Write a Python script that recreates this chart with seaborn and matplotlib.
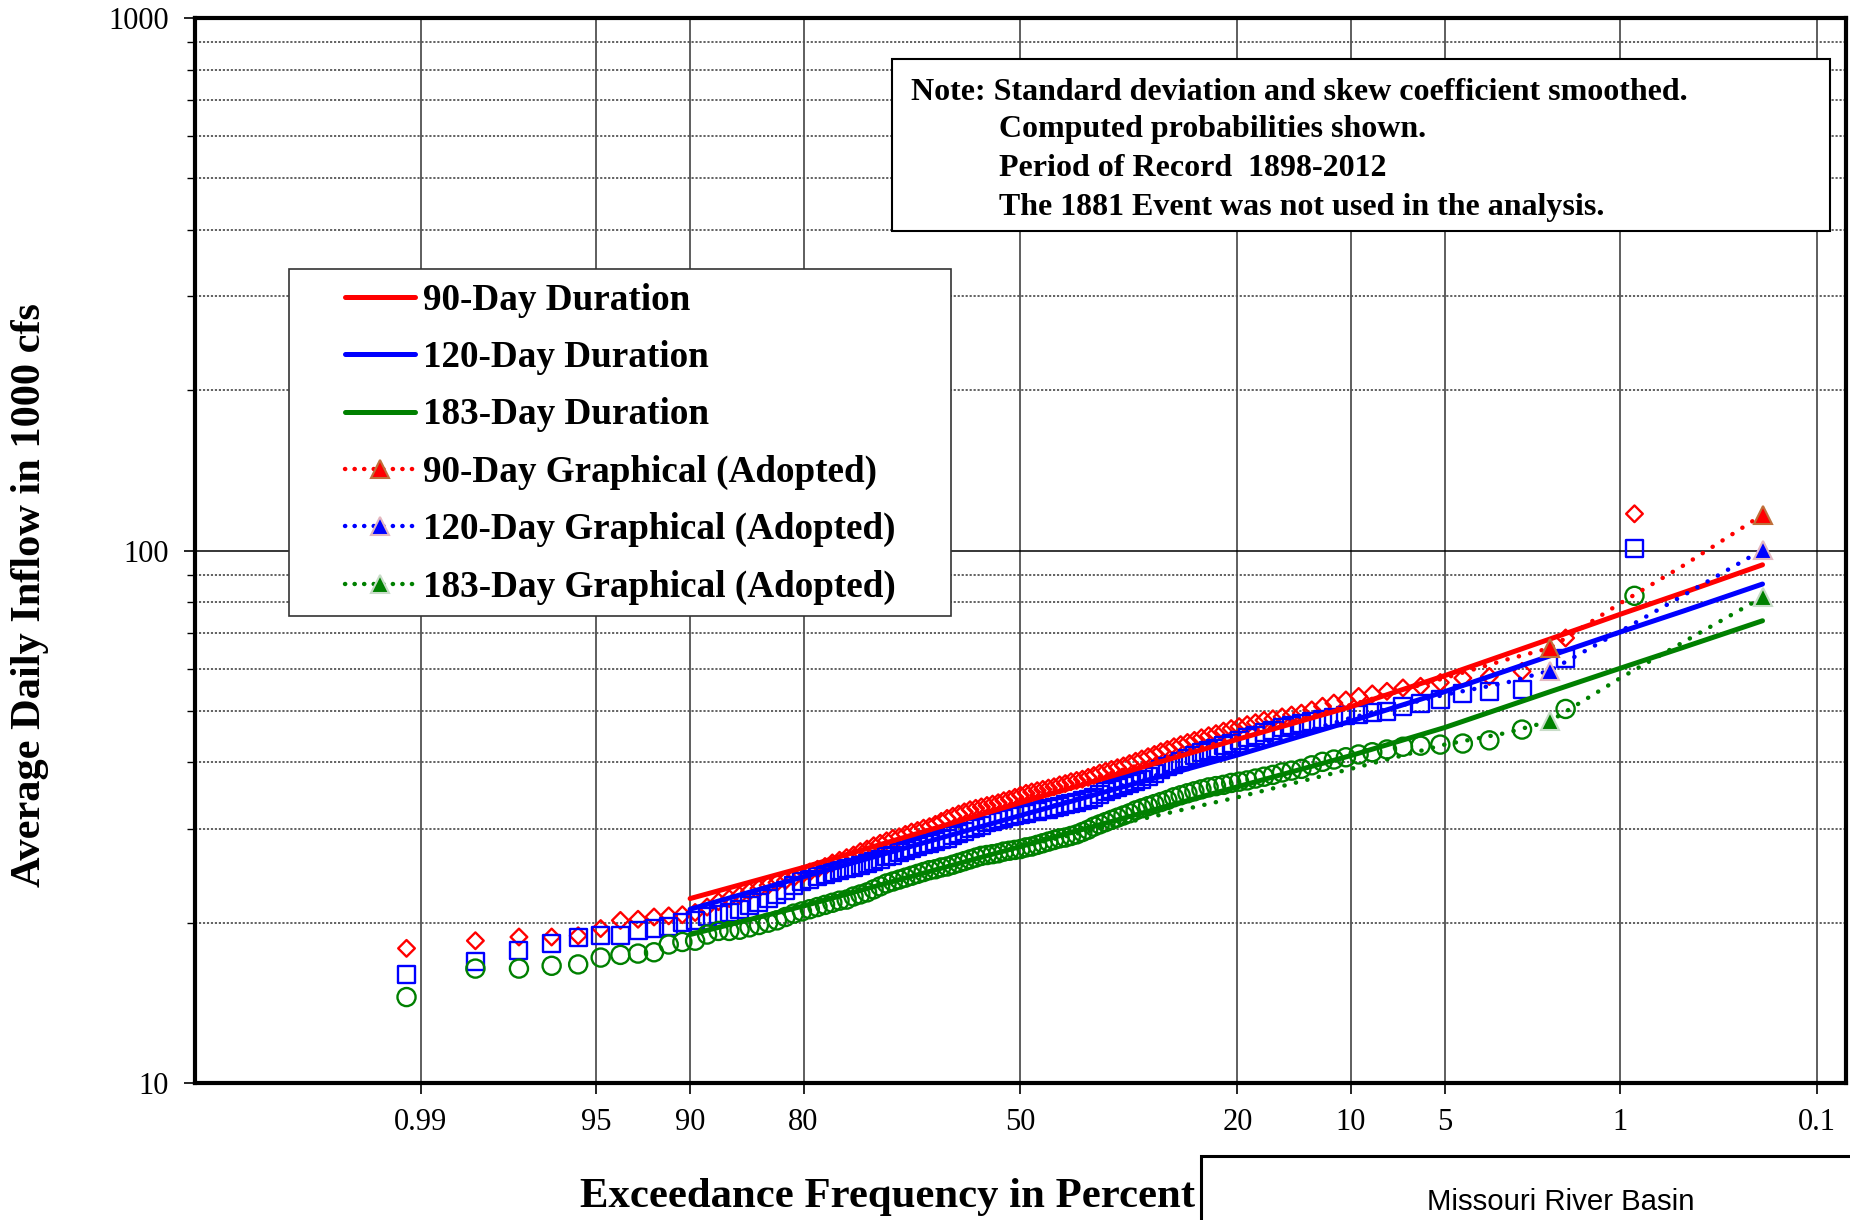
import numpy as np
import pandas as pd
import matplotlib
matplotlib.use("Agg")
import matplotlib.pyplot as plt
import seaborn as sns
from matplotlib.lines import Line2D
from matplotlib.patches import Rectangle
from statistics import NormalDist

# ---------------- data ----------------
n_years = 115                      # period of record 1898-2012
rank = np.arange(1, n_years + 1)
exceed_pct = rank / (n_years + 1) * 100.0   # Weibull plotting positions

flow_90 = [117.2, 68.5, 59.3, 58.0, 57.6, 56.5, 55.6, 55.2, 54.4, 53.8,
           53.2, 52.4, 51.7, 51.0, 50.2, 49.5, 49.1, 48.7, 48.3, 48.0,
           47.5, 47.1, 46.7, 46.3, 45.8, 45.3, 44.9, 44.5, 44.0, 43.6,
           43.2, 42.8, 42.3, 41.9, 41.4, 41.0, 40.6, 40.2, 39.8, 39.4,
           39.1, 38.8, 38.5, 38.2, 37.8, 37.5, 37.2, 37.0, 36.8, 36.5,
           36.3, 36.0, 35.8, 35.6, 35.4, 35.2, 35.0, 34.7, 34.4, 34.1,
           33.9, 33.6, 33.4, 33.2, 33.0, 32.8, 32.6, 32.3, 32.0, 31.7,
           31.4, 31.0, 30.6, 30.3, 30.1, 29.8, 29.6, 29.3, 29.0, 28.8,
           28.5, 28.2, 27.9, 27.5, 27.2, 26.8, 26.5, 26.2, 25.9, 25.5,
           25.2, 24.9, 24.6, 24.3, 24.0, 23.8, 23.5, 23.2, 22.9, 22.5,
           22.2, 21.9, 21.4, 20.9, 20.7, 20.6, 20.5, 20.3, 20.2, 19.5,
           18.9, 18.8, 18.8, 18.5, 17.9]

flow_120 = [101.0, 62.8, 54.8, 54.4, 53.8, 52.6, 51.7, 50.9, 49.9, 49.6,
            49.3, 48.9, 48.5, 48.1, 47.8, 47.4, 47.0, 46.5, 46.0, 45.5,
            45.0, 44.5, 43.9, 43.4, 43.0, 42.5, 42.1, 41.7, 41.2, 40.7,
            40.2, 39.7, 39.3, 38.8, 38.2, 37.7, 37.2, 36.8, 36.5, 36.2,
            35.9, 35.6, 35.2, 34.8, 34.4, 34.1, 33.9, 33.7, 33.5, 33.3,
            33.1, 32.9, 32.7, 32.6, 32.4, 32.3, 32.1, 32.0, 31.8, 31.6,
            31.4, 31.2, 31.0, 30.8, 30.5, 30.2, 30.0, 29.7, 29.4, 29.1,
            28.8, 28.6, 28.4, 28.2, 28.0, 27.8, 27.6, 27.3, 27.1, 26.8,
            26.6, 26.3, 26.1, 25.8, 25.6, 25.4, 25.3, 25.1, 24.9, 24.6,
            24.4, 24.1, 23.9, 23.5, 23.0, 22.6, 22.2, 21.8, 21.5, 21.2,
            20.9, 20.7, 20.5, 20.2, 20.0, 19.7, 19.5, 19.3, 18.9, 18.9,
            18.8, 18.3, 17.7, 16.9, 16.0]

flow_183 = [82.2, 50.4, 46.1, 44.0, 43.4, 43.2, 43.0, 42.8, 42.3, 41.8,
            41.4, 40.9, 40.5, 40.1, 39.5, 38.9, 38.6, 38.3, 37.9, 37.6,
            37.3, 37.0, 36.8, 36.6, 36.3, 36.1, 35.9, 35.6, 35.3, 35.0,
            34.7, 34.4, 34.0, 33.7, 33.4, 33.1, 32.8, 32.5, 32.1, 31.8,
            31.5, 31.2, 30.9, 30.6, 30.3, 29.9, 29.6, 29.3, 29.1, 28.9,
            28.8, 28.6, 28.4, 28.2, 28.0, 27.8, 27.7, 27.5, 27.4, 27.3,
            27.2, 27.0, 26.9, 26.8, 26.7, 26.5, 26.3, 26.1, 25.9, 25.7,
            25.5, 25.4, 25.2, 25.1, 24.9, 24.7, 24.5, 24.3, 24.1, 23.9,
            23.7, 23.4, 23.1, 22.8, 22.6, 22.4, 22.1, 22.0, 21.8, 21.6,
            21.4, 21.2, 21.0, 20.8, 20.5, 20.2, 20.0, 19.8, 19.6, 19.4,
            19.3, 19.3, 19.0, 18.5, 18.4, 18.2, 17.6, 17.5, 17.4, 17.2,
            16.7, 16.6, 16.4, 16.4, 14.5]

# computed (analytical) frequency curves
fit_prob = [90, 80, 50, 20, 10, 5, 2, 1, 0.5, 0.2]
fit_90 = [22.2, 25.4, 33.6, 44.2, 50.9, 58.2, 68.2, 75.9, 83.5, 94.0]
fit_120 = [21.2, 24.4, 31.8, 41.3, 47.8, 54.3, 63.4, 70.3, 77.1, 86.5]
fit_183 = [19.0, 21.5, 27.8, 36.0, 41.2, 46.5, 54.3, 60.1, 65.9, 73.8]

# graphical (adopted) curves
graph_prob = [50, 20, 10, 5, 3, 2, 1, 0.5, 0.2]
graph_90 = [34.2, 44.6, 51.3, 57.6, 62.3, 65.6, 79.6, 94.0, 116.7]
graph_120 = [31.8, 42.0, 48.5, 53.6, 56.4, 59.5, 70.5, 82.6, 100.3]
graph_183 = [27.8, 34.4, 38.9, 43.2, 45.4, 47.8, 57.6, 67.5, 81.7]
graph_marker_idx = [5, 8]          # triangles shown at 2% and 0.2%

tick_prob = [99, 95, 90, 80, 50, 20, 10, 5, 1, 0.1]
tick_labels = ["0.99", "95", "90", "80", "50", "20", "10", "5", "1", "0.1"]

series_labels = ["90-Day Duration", "120-Day Duration", "183-Day Duration",
                 "90-Day Graphical (Adopted)", "120-Day Graphical (Adopted)",
                 "183-Day Graphical (Adopted)"]

note_lines = ["Note: Standard deviation and skew coefficient smoothed.",
              "Computed probabilities shown.",
              "Period of Record  1898-2012",
              "The 1881 Event was not used in the analysis."]

# ---------------- helpers ----------------
_nd = NormalDist()


def to_z(pct):
    return np.array([_nd.inv_cdf(1.0 - p / 100.0) for p in pct])


# ---------------- style ----------------
sns.set_theme(style="white")
plt.rcParams["font.family"] = ["Liberation Serif", "DejaVu Serif"]
plt.rcParams["axes.unicode_minus"] = False
plt.rcParams["text.color"] = "black"
plt.rcParams["axes.labelcolor"] = "black"
plt.rcParams["xtick.color"] = "black"
plt.rcParams["ytick.color"] = "black"

W, H = 1850, 1220
fig = plt.figure(figsize=(W / 100, H / 100), dpi=100)
ax = fig.add_axes([195 / W, 1 - 1083 / H, (1846 - 195) / W, (1083 - 18) / H])

RED, BLUE, GREEN = "#FF0000", "#0000FF", "#008000"

scat = pd.DataFrame({
    "z": np.tile(to_z(exceed_pct), 3),
    "flow": np.concatenate([flow_90, flow_120, flow_183]),
    "series": np.repeat(["90", "120", "183"], n_years),
})

for key, col, mk, sz in [("90", RED, "D", 72), ("120", BLUE, "s", 150), ("183", GREEN, "o", 170)]:
    d = scat[scat["series"] == key]
    sns.scatterplot(data=d, x="z", y="flow", ax=ax, marker=mk, s=sz,
                    facecolor="none", edgecolor=col, linewidth=1.7,
                    zorder=3, legend=False)

zfit = to_z(fit_prob)
for vals, col in [(fit_90, RED), (fit_120, BLUE), (fit_183, GREEN)]:
    sns.lineplot(x=zfit, y=vals, ax=ax, color=col, lw=3.6, sort=False,
                 estimator=None, zorder=4, legend=False)

zg = to_z(graph_prob)
tri_edges = ["#C0703A", "#E4B8C0", "#C8DCC8"]
dot_ls = (0, (0.05, 2.6))
for vals, col, ec in zip([graph_90, graph_120, graph_183], [RED, BLUE, GREEN], tri_edges):
    sns.lineplot(x=zg, y=vals, ax=ax, color=col, lw=3.2, ls=dot_ls,
                 dash_capstyle="round", sort=False, estimator=None,
                 marker="^", markersize=13, markerfacecolor=col,
                 markeredgecolor=ec, markeredgewidth=1.5,
                 markevery=graph_marker_idx, zorder=5, legend=False)

# ---------------- axes ----------------
ax.set_yscale("log")
ax.set_ylim(10, 1000)
ax.set_xlim(-3.202, 3.202)
ax.set_yticks([10, 100, 1000])
ax.set_yticklabels(["10", "100", "1000"])
ax.set_yticks([v * 10 ** e for e in (1, 2) for v in range(2, 10)], minor=True)
ax.set_xticks(to_z(tick_prob))
ax.set_xticklabels(tick_labels)
ax.set_xlabel("")
ax.set_ylabel("")

ax.tick_params(axis="both", which="major", direction="out", length=8, width=1.2,
               color="black", labelcolor="black", labelsize=22, pad=10,
               left=True, bottom=True)
ax.tick_params(axis="y", which="minor", direction="out", length=6, width=1.0,
               color="black", left=True)
ax.tick_params(axis="y", which="major", pad=11)

ax.grid(False)
ax.xaxis.grid(True, which="major", color="#333333", lw=1.1, ls="-", zorder=0)
ax.yaxis.grid(True, which="major", color="black", lw=1.1, ls="-", zorder=0)
ax.yaxis.grid(True, which="minor", color="#555555", lw=1.3, ls=(0, (1.2, 1.0)), zorder=0)
ax.set_axisbelow(True)
for sp in ax.spines.values():
    sp.set_visible(True)
    sp.set_color("black")
    sp.set_linewidth(3.0)

# ---------------- legend ----------------
fig.patches.append(Rectangle((289 / W, 1 - 616 / H), (951 - 289) / W, (616 - 269) / H,
                             transform=fig.transFigure, facecolor="white",
                             edgecolor="#333333", lw=1.2, zorder=6))
handles = [Line2D([0], [0], color=RED, lw=3.6),
           Line2D([0], [0], color=BLUE, lw=3.6),
           Line2D([0], [0], color=GREEN, lw=3.6)]
for col, ec in zip([RED, BLUE, GREEN], tri_edges):
    handles.append(Line2D([0], [0], color=col, lw=3.2, ls=(0, (0.05, 2.1)),
                          dash_capstyle="round",
                          marker="^", markersize=13, markerfacecolor=col,
                          markeredgecolor=ec, markeredgewidth=1.5))
leg = fig.legend(handles, series_labels, loc="upper left",
                 bbox_to_anchor=(345 / W, 1 - 283 / H), bbox_transform=fig.transFigure,
                 frameon=False, borderpad=0, borderaxespad=0, handlelength=1.9,
                 handletextpad=0.2, labelspacing=0.6, numpoints=1,
                 prop={"family": "Liberation Serif", "weight": "bold", "size": 26.7})
leg.set_zorder(7)
for t in leg.get_texts():
    t.set_color("black")

# ---------------- note box ----------------
fig.patches.append(Rectangle((892 / W, 1 - 231 / H), (1830 - 892) / W, (231 - 59) / H,
                             transform=fig.transFigure, facecolor="white",
                             edgecolor="black", lw=1.5, zorder=6))
note_y = [92, 129.5, 168.5, 207.5]
note_x = [911, 999, 999, 999]
for txt, xx, yy in zip(note_lines, note_x, note_y):
    fig.text(xx / W, 1 - yy / H, txt, ha="left", va="center", fontsize=23,
             fontweight="bold", family="Liberation Serif", color="black", zorder=8)

# ---------------- axis titles ----------------
fig.text(30 / W, 1 - 595 / H, "Average Daily Inflow in 1000 cfs", rotation=90,
         ha="center", va="center", fontsize=30.5, fontweight="bold",
         family="Liberation Serif", color="black")
fig.text(888 / W, 1 - 1197 / H, "Exceedance Frequency in Percent",
         ha="center", va="center", fontsize=30.8, fontweight="bold",
         family="Liberation Serif", color="black")

# ---------------- basin box ----------------
fig.patches.append(Rectangle((1201 / W, -0.05), 0.5, 0.05 + (1 - 1156 / H),
                             transform=fig.transFigure, facecolor="white",
                             edgecolor="black", lw=2.2, zorder=6))
fig.text(1561 / W, 1 - 1202 / H, "Missouri River Basin", ha="center", va="center",
         fontsize=21.2, family="Liberation Sans", color="black", zorder=8)

fig.savefig("out.png", dpi=100)
